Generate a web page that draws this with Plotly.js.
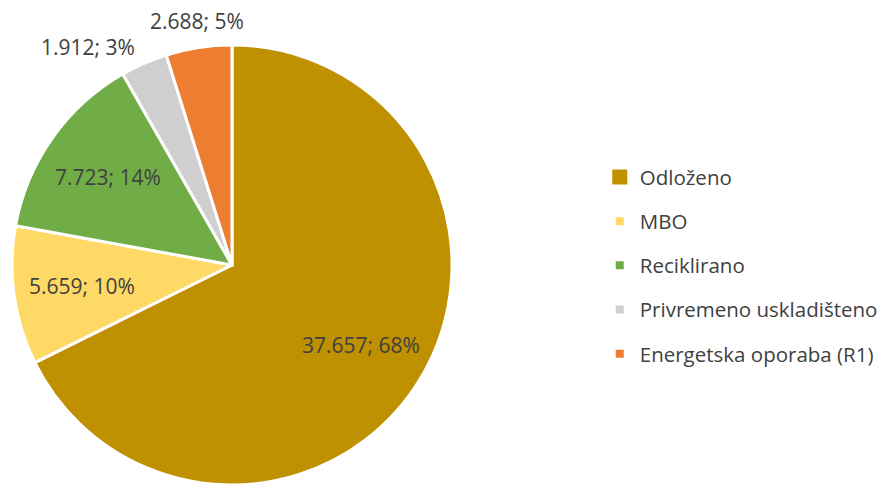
<!DOCTYPE html>
<html><head><meta charset="utf-8">
<script src="https://cdn.plot.ly/plotly-3.0.1.min.js"></script>
<style>html,body{margin:0;padding:0;background:#fff;}#chart{width:882px;height:485px;}</style>
</head><body><div id="chart"></div>
<script>
const labels = ["Odloženo", "MBO", "Reciklirano", "Privremeno uskladišteno", "Energetska oporaba (R1)"];
const values = [37657, 5659, 7723, 1912, 2688];
const colors = ["#BF9000", "#FFD966", "#70AD47", "#D0CECE", "#ED7D31"];
// "inside": inside the slice along its mid-angle; "outside": beyond the rim
const labelModes = ["inside", "inside", "inside", "outside", "outside"];
const legendMarkerSizes = [15, 8, 8, 8, 8];

const font = "'Open Sans', Lato, sans-serif";
const FS = 21;
const W = 882, H = 485, M = {l: 0, r: 0, t: 45, b: 0, autoexpand: false};
const dom = {x: [12/882, 452/882], y: [0, 1]};

const total = values.reduce((a, b) => a + b, 0);
const fmt = v => String(v).replace(/\B(?=(\d{3})+(?!\d))/g, ".");
const annotations = [];
let cum = 0;
const plotW = W - M.l - M.r, plotH = H - M.t - M.b;
const cx = (dom.x[0] + dom.x[1]) / 2, cy = 0.5;
const R = Math.min((dom.x[1] - dom.x[0]) * plotW, plotH) / 2;
values.forEach((v, i) => {
  const mid = (cum + v / 2) / total * 2 * Math.PI;
  cum += v;
  const s = Math.sin(mid), c = Math.cos(mid);
  const text = fmt(v) + "; " + Math.round(v / total * 100) + "%";
  let a;
  if (labelModes[i] === "inside") {
    const rr = R * 0.69;
    a = {x: cx + rr * s / plotW, y: cy + rr * c / plotH, xanchor: "center", yanchor: "middle"};
  } else {
    const side = Math.abs(s) > 0.3;
    const rr = R * (side ? 1.08 : 1.05);
    a = {x: cx + rr * s / plotW, y: cy + rr * c / plotH,
         xanchor: side ? (s < 0 ? "right" : "left") : "center",
         yanchor: side ? "middle" : "bottom"};
  }
  annotations.push(Object.assign(a, {xref: "paper", yref: "paper", showarrow: false, text: text,
    font: {family: font, size: FS, color: "#404040"}}));
});

const traces = [{
  type: "pie",
  labels: labels,
  values: values,
  sort: false,
  direction: "clockwise",
  rotation: 0,
  marker: {colors: colors, line: {color: "#ffffff", width: 3}},
  textinfo: "none",
  domain: dom,
  showlegend: false,
  automargin: false
}];
labels.forEach((lab, i) => {
  traces.push({
    type: "scatter", mode: "markers", x: [null], y: [null],
    name: lab, legendgroup: "g" + i,
    marker: {symbol: "square", size: legendMarkerSizes[i], color: colors[i]},
    xaxis: "x", yaxis: "y", hoverinfo: "skip"
  });
});
const layout = {
  width: W, height: H,
  margin: M,
  paper_bgcolor: "#ffffff", plot_bgcolor: "#ffffff",
  separators: ",.",
  font: {family: font, color: "#404040"},
  xaxis: {visible: false}, yaxis: {visible: false},
  showlegend: true,
  annotations: annotations,
  legend: {x: 0.68, y: 0.745, xanchor: "left", yanchor: "top",
    font: {family: font, size: 20.5, color: "#404040"},
    tracegroupgap: 14.5, itemsizing: "trace", itemwidth: 30, traceorder: "grouped"}
};
Plotly.newPlot("chart", traces, layout, {displayModeBar: false, staticPlot: true});
</script></body></html>
